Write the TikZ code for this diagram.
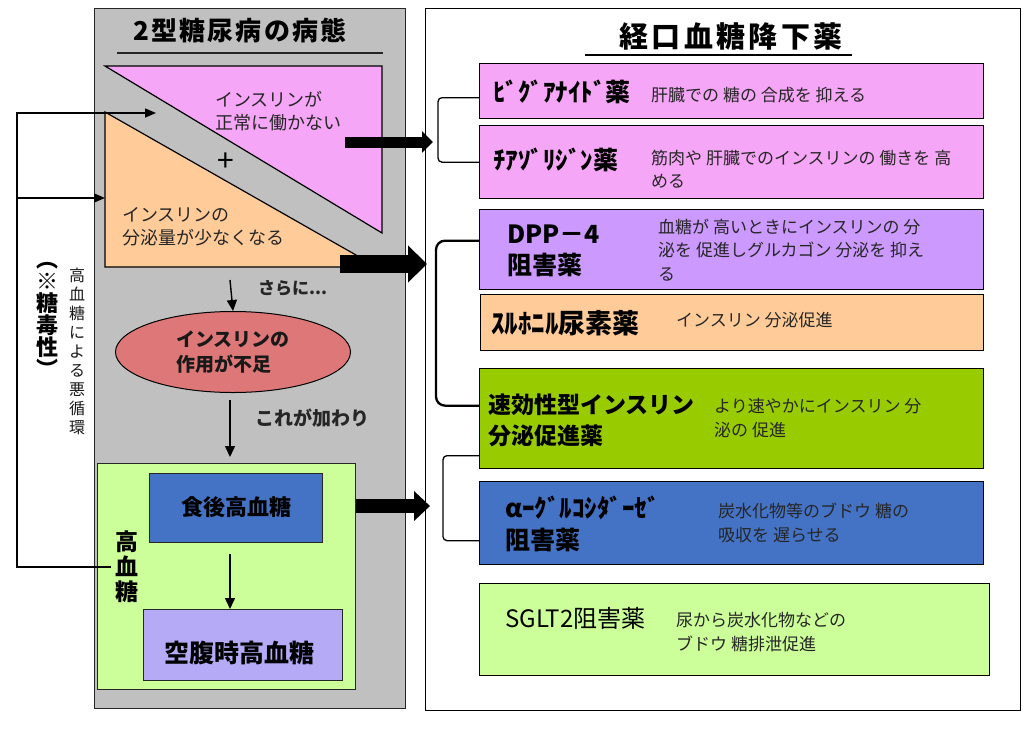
\documentclass[tikz,border=0pt]{standalone}
\usepackage{fontspec}
\setmainfont{Noto Sans CJK JP}
\usetikzlibrary{arrows.meta,shapes.geometric}
\definecolor{panelgray}{RGB}{192,192,192}
\definecolor{pinkv}{RGB}{246,166,246}
\definecolor{peach}{RGB}{255,204,153}
\definecolor{salmon}{RGB}{222,120,120}
\definecolor{lightgreen}{RGB}{204,255,153}
\definecolor{blueb}{RGB}{68,114,196}
\definecolor{lavender}{RGB}{180,170,246}
\definecolor{violetb}{RGB}{204,153,255}
\definecolor{oliveb}{RGB}{153,204,0}
\newcommand{\myfs}[2]{\fontsize{#1}{#2}\selectfont}
\begin{document}
\begin{tikzpicture}[x=1pt,y=-1pt,
  rbox/.style={draw=black, line width=1.3pt, inner sep=0, anchor=north west},
  lbox/.style={draw=black!85, line width=1pt, inner sep=0, anchor=north west},
  lbl/.style={inner sep=0, anchor=west, align=left},
  nm/.style={lbl, font=\bfseries\myfs{25}{31}},
  ds/.style={lbl, font=\myfs{17}{23.5}, text=black!85},
  brk/.style={draw=black, line width=1.3pt, rounded corners=4pt},
  thin/.style={draw=black, line width=1.4pt, -{Triangle[length=11pt,width=10pt]}},
  fbline/.style={draw=black, line width=1.5pt}]
\useasboundingbox (0,0) rectangle (1024,731);

% ---------- left panel ----------
\node[lbox, fill=panelgray, minimum width=311pt, minimum height=700pt] (lp) at (94,8) {};
\node[font=\bfseries\myfs{26}{30}] (ltitle) at (240,31) {\addfontfeature{LetterSpace=8}2型糖尿病の病態};
\draw[line width=1.2pt, black!85] (117,53) -- (383,53);

\draw[fill=pinkv, draw=black, line width=1.2pt] (105,66) -- (382,66) -- (382,233) -- cycle;
\draw[fill=peach, draw=black, line width=1.2pt] (105,112) -- (377,267) -- (105,267) -- cycle;
\node[lbl, font=\myfs{18}{23}, text=black!85] (tp) at (215,111) {インスリンが\\正常に働かない};
\node[font=\myfs{30}{30}] (plus) at (226,162) {+};
\node[lbl, font=\myfs{18}{23}, text=black!85] (to) at (122,227) {インスリンの\\分泌量が少なくなる};

\node[ellipse, draw=black, line width=1pt, fill=salmon, minimum width=235pt, minimum height=81pt, inner sep=0,
      font=\bfseries\myfs{19}{25}, align=left, text=black!90] (ell) at (233,352) {インスリンの\\作用が不足};
\coordinate (a0) at (230,280);
\draw[thin] (a0) -- (ell.north);
\node[lbl, font=\bfseries\myfs{17}{20}, text=black!85] (sarani) at (258,288) {さらに...};

\node[lbox, fill=lightgreen, minimum width=258pt, minimum height=226pt] (gb) at (97,463) {};
\coordinate (a1t) at (230,457);
\draw[thin] ([yshift=-7pt]ell.south -| a1t) -- (a1t);
\node[lbl, font=\bfseries\myfs{19}{22}, text=black!85] (kore) at (255,418) {これが加わり};

\node[lbox, fill=blueb, minimum width=173pt, minimum height=69pt] (blue) at (149,473) {};
\node[font=\bfseries\myfs{22}{24}] (bluet) at (236,507) {食後高血糖};
\node[lbox, fill=lavender, minimum width=199pt, minimum height=71pt] (purp) at (143,609) {};
\node[font=\bfseries\myfs{25}{28}] (purpt) at (239,653) {空腹時高血糖};
\draw[thin] ([yshift=-11pt]blue.south -| a1t) -- (purp.north -| a1t);
\node[font=\bfseries\myfs{23}{25}, align=center, inner sep=0] (hgt) at (127,567) {高\\血\\糖};

% feedback loop
\coordinate (fbT) at (17,113);
\coordinate (fbM) at (17,198);
\coordinate (inT) at (156,113);
\coordinate (inM) at (105,198);
\draw[fbline, -{Triangle[length=11pt,width=9pt]}] ([xshift=-4pt]hgt.west) -| (fbT) -- (inT);
\draw[fbline, -{Triangle[length=11pt,width=9pt]}] (fbM) -- (inM);
\node[font=\bfseries\myfs{22}{22}, align=center, inner sep=0] (tox) at (47,320) {︵\\※\\糖\\毒\\性\\︶};
\node[font=\myfs{16}{19}, align=center, inner sep=0, text=black!90] (vic) at (77,351) {高\\血\\糖\\に\\よ\\る\\悪\\循\\環};

% ---------- right panel ----------
\node[rbox, fill=white, minimum width=595pt, minimum height=702pt, line width=1.2pt] (rp) at (425,8) {};
\node[font=\bfseries\myfs{29}{32}] (rtitle) at (731,36) {\addfontfeature{LetterSpace=12}経口血糖降下薬};
\draw[line width=1.5pt] (585,55) -- (852,55);

\node[rbox, fill=pinkv, minimum width=504pt, minimum height=55pt] (b1) at (479,63) {};
\node[rbox, fill=pinkv, minimum width=504pt, minimum height=73pt] (b2) at (479,125) {};
\node[rbox, fill=violetb, minimum width=504pt, minimum height=80pt] (b3) at (479,209) {};
\node[rbox, fill=peach, minimum width=503pt, minimum height=56pt] (b4) at (480,294) {};
\node[rbox, fill=oliveb, minimum width=504pt, minimum height=100pt] (b5) at (479,368) {};
\node[rbox, fill=blueb, minimum width=504pt, minimum height=83pt] (b6) at (479,481) {};
\node[rbox, fill=lightgreen, minimum width=510pt, minimum height=92pt] (b7) at (479,583) {};

\node[nm] (n1) at (493,92) {ﾋﾞｸﾞｱﾅｲﾄﾞ薬};
\node[ds] (d1) at (651,95) {肝臓での 糖の 合成を 抑える};
\node[nm] (n2) at (493,160) {ﾁｱｿﾞﾘｼﾞﾝ薬};
\node[ds] (d2) at (651,169) {筋肉や 肝臓でのインスリンの 働きを 高\\める};
\node[nm, font=\bfseries\myfs{25}{31}] (n3) at (507,251) {DPP－4\\阻害薬};
\node[ds] (d3) at (658,250) {血糖が 高いときにインスリンの 分\\泌を 促進しグルカゴン 分泌を 抑え\\る};
\node[nm, font=\bfseries\myfs{27}{28}] (n4) at (491,323) {ｽﾙﾎﾆﾙ尿素薬};
\node[ds] (d4) at (676,320) {インスリン 分泌促進};
\node[nm, font=\bfseries\myfs{23}{31}] (n5) at (488,420) {速効性型インスリン\\分泌促進薬};
\node[ds] (d5) at (714,418) {より速やかにインスリン 分\\泌の 促進};
\node[nm, font=\bfseries\myfs{25}{32}] (n6) at (505,524) {\textit{α}ｰｸﾞﾙｺｼﾀﾞｰｾﾞ\\阻害薬};
\node[ds] (d6) at (718,523) {炭水化物等のブドウ 糖の\\吸収を 遅らせる};
\node[lbl, font=\myfs{24}{26}] (n7) at (505,618) {SGLT2阻害薬};
\node[ds] (d7) at (676,632) {尿から炭水化物などの\\ブドウ 糖排泄促進};

% brackets
\draw[brk] ([yshift=-6.5pt]b1.west) -- ++(-41,0) |- (b2.west);
\draw[brk, line width=2.3pt, rounded corners=9pt] ([yshift=9pt]b3.west) -- ++(-43,0) |- ([yshift=13pt]b5.west);
\draw[brk] ([yshift=-37pt]b5.west) -- ++(-36,0) |- ([yshift=-17.5pt]b6.west);

% thick arrows
\coordinate (t1s) at (345,142); \coordinate (t1e) at (433,142);
\coordinate (t2s) at (340,264); \coordinate (t2e) at (427,264);
\coordinate (t3e) at (430,506);
\draw[line width=11pt, -{Triangle[length=11pt,width=21pt]}] (t1s) -- (t1e);
\draw[line width=18pt, -{Triangle[length=19pt,width=36pt]}] (t2s) -- (t2e);
\draw[line width=14pt, -{Triangle[length=16pt,width=29pt]}] (gb.east |- t3e) -- (t3e);
\end{tikzpicture}
\end{document}
